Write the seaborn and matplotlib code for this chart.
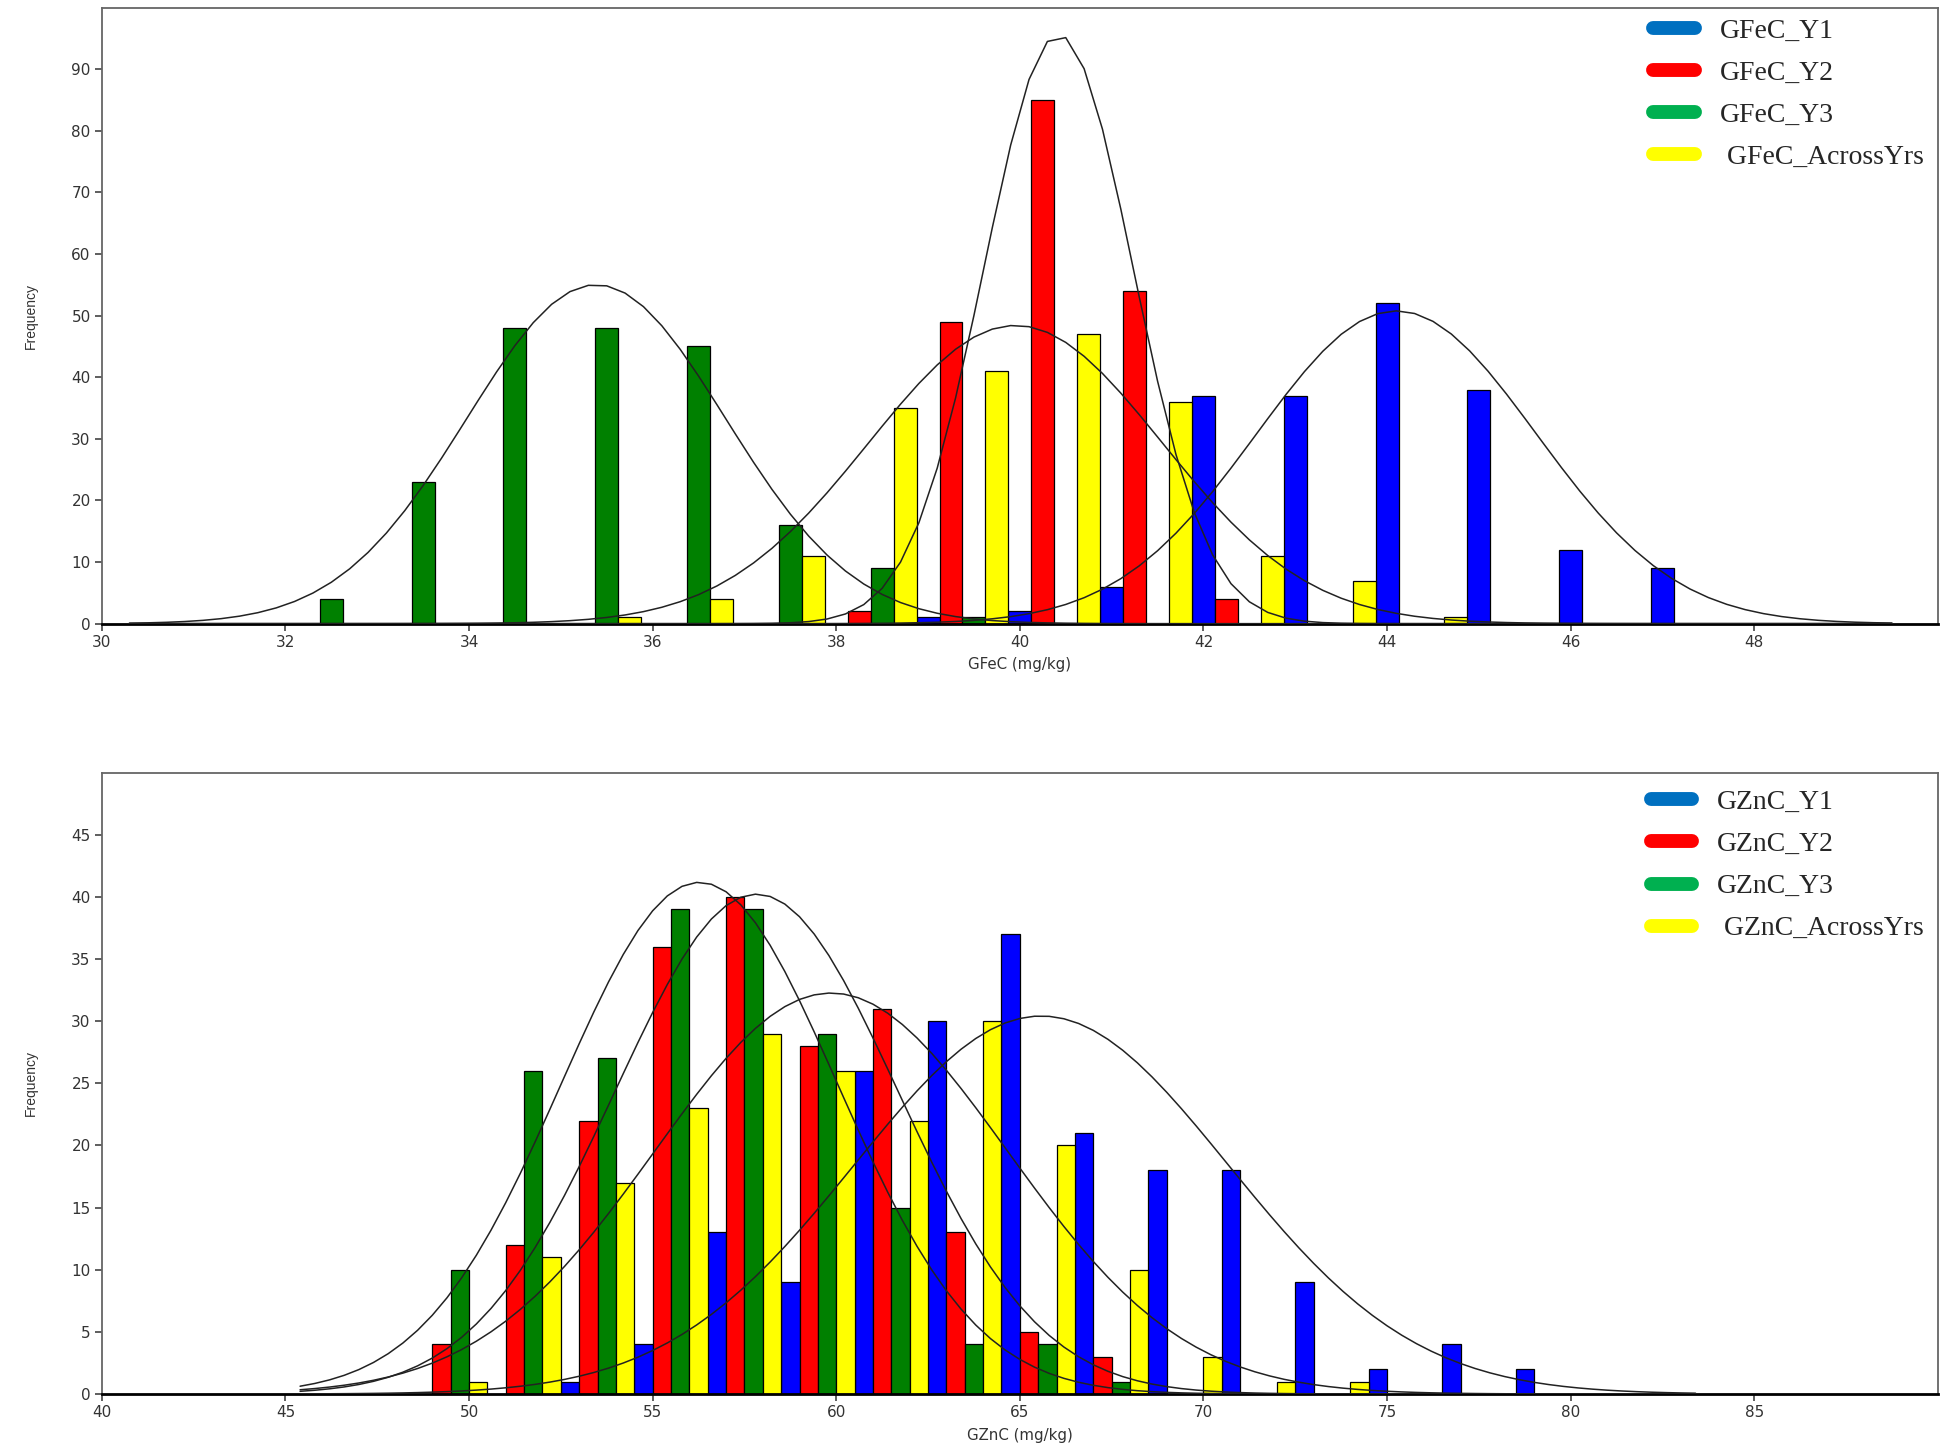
import numpy as np
import pandas as pd
import matplotlib
matplotlib.use("Agg")
import matplotlib.pyplot as plt
import seaborn as sns
from matplotlib import font_manager
from matplotlib.lines import Line2D

# ---- values ----
fe_series = ["GFeC_Y1", "GFeC_Y2", "GFeC_Y3", "GFeC_AcrossYrs"]
zn_series = ["GZnC_Y1", "GZnC_Y2", "GZnC_Y3", "GZnC_AcrossYrs"]

# class midpoints (mg/kg) and frequencies per class
fe_classes = [32.375, 33.375, 34.375, 35.375, 36.375, 37.375, 38.375, 39.375,
              40.375, 41.375, 42.375, 43.375, 44.375, 45.375, 46.375, 47.375]
fe_y1 = [0, 0, 0, 0, 0, 0, 0, 1, 2, 6, 37, 37, 52, 38, 12, 9]
fe_y2 = [0, 0, 0, 0, 0, 0, 2, 49, 85, 54, 4, 0, 0, 0, 0, 0]
fe_y3 = [4, 23, 48, 48, 45, 16, 9, 1, 0, 0, 0, 0, 0, 0, 0, 0]
fe_across = [0, 0, 0, 1, 4, 11, 35, 41, 47, 36, 11, 7, 1, 0, 0, 0]
fe_class_width = 1.0

zn_classes = [49.5, 51.5, 53.5, 55.5, 57.5, 59.5, 61.5, 63.5,
              65.5, 67.5, 69.5, 71.5, 73.5, 75.5, 77.5, 79.5]
zn_y1 = [0, 0, 1, 4, 13, 9, 26, 30, 37, 21, 18, 18, 9, 2, 4, 2]
zn_y2 = [4, 12, 22, 36, 40, 28, 31, 13, 5, 3, 0, 0, 0, 0, 0, 0]
zn_y3 = [10, 26, 27, 39, 39, 29, 15, 4, 4, 1, 0, 0, 0, 0, 0, 0]
zn_across = [1, 11, 17, 23, 29, 26, 22, 30, 20, 10, 3, 1, 1, 0, 0, 0]
zn_class_width = 2.0

# range over which the fitted normal curves are drawn
fe_curve_range = (30.3, 49.5)
zn_curve_range = (45.4, 83.5)

bar_colors = ["#0000FF", "#FF0000", "#008000", "#FFFF00"]
legend_colors = ["#0070C0", "#FF0000", "#00B050", "#FFFF00"]

# ---- style ----
sns.set_style("white")
available = {f.name for f in font_manager.fontManager.ttflist}
narrow = "Liberation Sans Narrow" if "Liberation Sans Narrow" in available else "Liberation Sans"
plt.rcParams["font.family"] = ["DejaVu Sans"]


def draw_panel(ax, classes, counts, names, width, curve_range, xlabel, legend_y):
    rows = []
    for name, vals in zip(names, counts):
        for c, v in zip(classes, vals):
            if v > 0:
                rows.append({"mid": c, "series": name, "freq": v})
    df = pd.DataFrame(rows)

    sns.barplot(data=df, x="mid", y="freq", hue="series", hue_order=names,
                palette=dict(zip(names, bar_colors)), native_scale=True,
                width=1, dodge=True, saturation=1, errorbar=None,
                edgecolor="black", linewidth=0.9, legend=False, ax=ax)

    # fitted normal curve for every series (from the class frequencies)
    xs = np.arange(curve_range[0], curve_range[1] + 1e-9, 0.2 * width)
    mids = np.array(classes)
    for vals in counts:
        w = np.array(vals, dtype=float)
        n = w.sum()
        mu = (w * mids).sum() / n
        sd = np.sqrt((w * (mids - mu) ** 2).sum() / (n - 1))
        ys = n * width * np.exp(-0.5 * ((xs - mu) / sd) ** 2) / (sd * np.sqrt(2 * np.pi))
        ax.plot(xs, ys, color="#222222", lw=1.1, zorder=5)

    for s in ["top", "left", "right"]:
        ax.spines[s].set_color("#666666")
        ax.spines[s].set_linewidth(1.3)
    ax.spines["bottom"].set_color("black")
    ax.spines["bottom"].set_linewidth(2.0)
    ax.tick_params(axis="both", direction="out", length=5, width=1.1, pad=3,
                   color="#333333", labelsize=11, labelcolor="#333333",
                   bottom=True, left=True)
    ax.set_xlabel(xlabel, fontsize=10.8, color="#333333")
    ax.set_ylabel("Frequency", fontsize=10, color="#333333", family=narrow)
    ax.yaxis.set_label_coords(-0.035, 0.5)
    ax.xaxis.set_label_coords(0.5, -0.054)

    handles = [Line2D([], [], color=c, lw=10, solid_capstyle="round")
               for c in legend_colors]
    labels = names[:3] + [" " + names[3]]
    ax.legend(handles, labels, loc="upper right", bbox_to_anchor=(1, legend_y),
              frameon=False, borderaxespad=0.1, handlelength=1.5,
              handletextpad=0.9, labelspacing=0.6,
              prop={"family": "Liberation Serif", "size": 20})


fig = plt.figure(figsize=(19.5, 14.5), dpi=100)
ax1 = fig.add_axes([0.0522, 0.5699, 0.9416, 0.4249])
ax2 = fig.add_axes([0.0522, 0.0386, 0.9416, 0.4286])

draw_panel(ax1, fe_classes, [fe_y1, fe_y2, fe_y3, fe_across], fe_series,
           fe_class_width, fe_curve_range, "GFeC (mg/kg)", 1.005)
ax1.set_xlim(30, 50)
ax1.set_ylim(0, 100)
ax1.set_xticks(range(30, 50, 2))
ax1.set_yticks(range(0, 100, 10))

draw_panel(ax2, zn_classes, [zn_y1, zn_y2, zn_y3, zn_across], zn_series,
           zn_class_width, zn_curve_range, "GZnC (mg/kg)", 0.995)
ax2.set_xlim(40, 90)
ax2.set_ylim(0, 50)
ax2.set_xticks(range(40, 90, 5))
ax2.set_yticks(range(0, 50, 5))

fig.savefig("out.png", dpi=100, facecolor="white")
